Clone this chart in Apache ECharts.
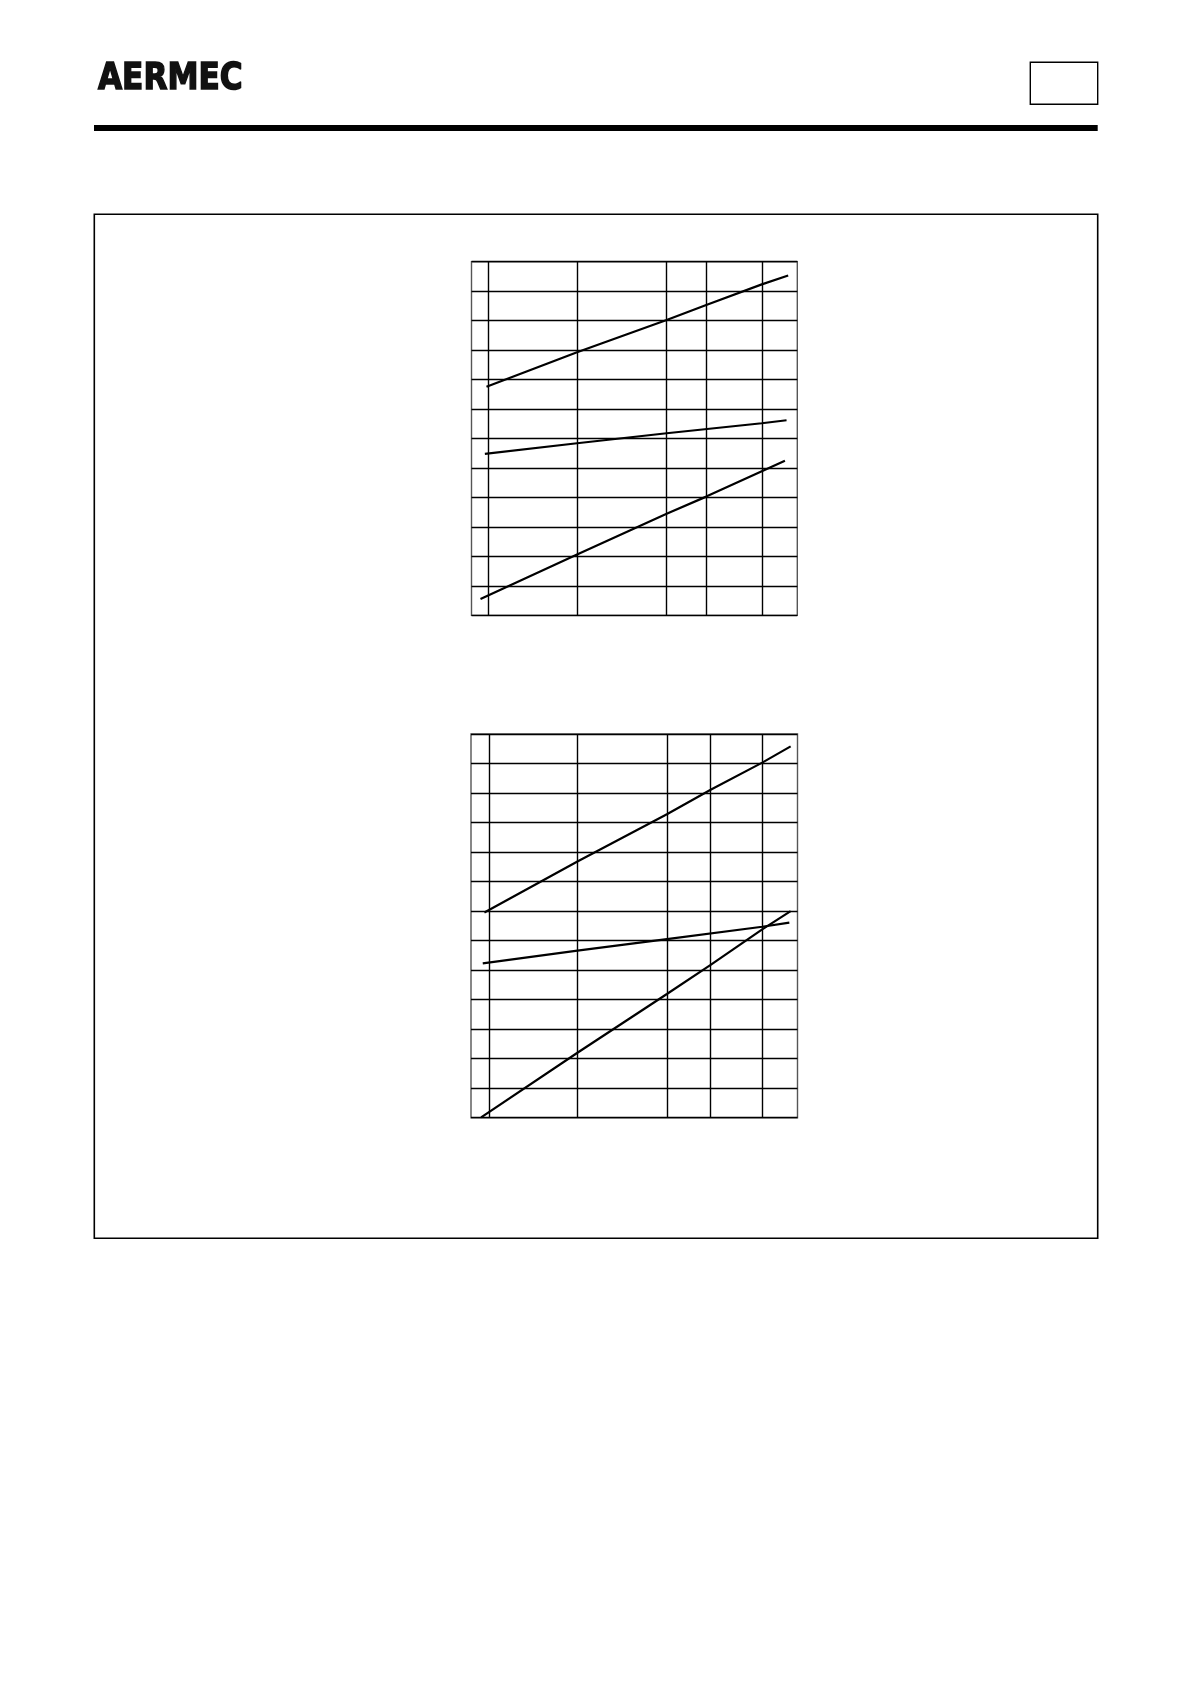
<!DOCTYPE html>
<html>
<head>
<meta charset="utf-8">
<script src="https://cdn.jsdelivr.net/npm/echarts@6/dist/echarts.min.js"></script>
<style>
html,body{margin:0;padding:0;background:#fff;}
#c{width:1190px;height:1684px;}
</style>
</head>
<body>
<div id="c"></div>
<script>
// Chart 1 (upper): vertical grid line positions and three curves
var c1VLines = [5.1, 32.4, 59.9, 72.05, 89.1];
var c1AX = [4.6, 32.4, 59.9, 72.05, 89.1, 97.2];
var c1AY = [7.76, 8.93, 10.02, 10.53, 11.23, 11.53];
var c1BX = [4.1, 32.4, 59.9, 89.1, 96.7];
var c1BY = [5.48, 5.84, 6.18, 6.52, 6.62];
var c1CX = [2.76, 32.4, 59.9, 72.05, 96.2];
var c1CY = [0.56, 2.07, 3.45, 4.03, 5.25];
var c1YMax = 12;

// Chart 2 (lower)
var c2VLines = [5.6, 32.6, 60.0, 73.4, 89.2];
var c2AX = [4.1, 32.6, 60.0, 73.4, 89.2, 97.9];
var c2AY = [6.95, 8.68, 10.28, 11.11, 12.03, 12.58];
var c2BX = [3.6, 32.6, 60.0, 89.2, 97.5];
var c2BY = [5.23, 5.66, 6.05, 6.47, 6.61];
var c2CX = [3.1, 32.6, 60.0, 73.4, 89.2, 97.9];
var c2CY = [0.01, 2.2, 4.19, 5.18, 6.38, 7.0];
var c2YMax = 13;

function pairs(xs, ys){ return xs.map(function(x,i){ return [x, ys[i]]; }); }

function lineSeries(xs, ys, gi, vlines){
  var s = {
    type:'line', xAxisIndex:gi, yAxisIndex:gi,
    data: pairs(xs, ys), showSymbol:false, symbol:'none',
    smooth:false, silent:true, z:5,
    lineStyle:{color:'#000', width:2.2}
  };
  if (vlines) {
    s.markLine = {
      silent:true, symbol:['none','none'], animation:false,
      label:{show:false},
      lineStyle:{color:'#000', width:1.4, type:'solid'},
      emphasis:{disabled:true},
      data: vlines.map(function(v){ return {xAxis:v}; })
    };
  }
  return s;
}

var chart = echarts.init(document.getElementById('c'), null, {renderer:'canvas'});
var axisX = function(gi){ return {type:'value', gridIndex:gi, min:0, max:100,
  axisLine:{show:false}, axisTick:{show:false}, axisLabel:{show:false}, splitLine:{show:false}}; };
var axisY = function(gi, mx){ return {type:'value', gridIndex:gi, min:0, max:mx, interval:1,
  axisLine:{show:false}, axisTick:{show:false}, axisLabel:{show:false},
  splitLine:{show:true, lineStyle:{color:'#000', width:1.4}}}; };

chart.setOption({
  animation:false,
  grid:[
    {left:471.5, top:261.7, width:325.8, height:353.7, show:true, borderColor:'#555', borderWidth:1.4, backgroundColor:'transparent'},
    {left:471, top:734, width:326.5, height:383.7, show:true, borderColor:'#555', borderWidth:1.4, backgroundColor:'transparent'}
  ],
  xAxis:[axisX(0), axisX(1)],
  yAxis:[axisY(0, c1YMax), axisY(1, c2YMax)],
  series:[
    lineSeries(c1AX, c1AY, 0, c1VLines),
    lineSeries(c1BX, c1BY, 0),
    lineSeries(c1CX, c1CY, 0),
    lineSeries(c2AX, c2AY, 1, c2VLines),
    lineSeries(c2BX, c2BY, 1),
    lineSeries(c2CX, c2CY, 1)
  ],
  graphic:[
    {type:'text', x:98, y:60, scaleX:0.82, style:{text:'AERMEC', fill:'#111',
      stroke:'#111', lineWidth:1.6,
      font:'bold 38px "DejaVu Sans", sans-serif'}},
    {type:'rect', shape:{x:1030.3, y:62.3, width:67.4, height:42}, style:{fill:'none', stroke:'#000', lineWidth:1.4}},
    {type:'rect', shape:{x:94, y:125, width:1003.7, height:6}, style:{fill:'#000'}},
    {type:'rect', shape:{x:94.3, y:214.3, width:1003.4, height:1024}, style:{fill:'none', stroke:'#000', lineWidth:1.6}}
  ]
});
</script>
</body>
</html>
